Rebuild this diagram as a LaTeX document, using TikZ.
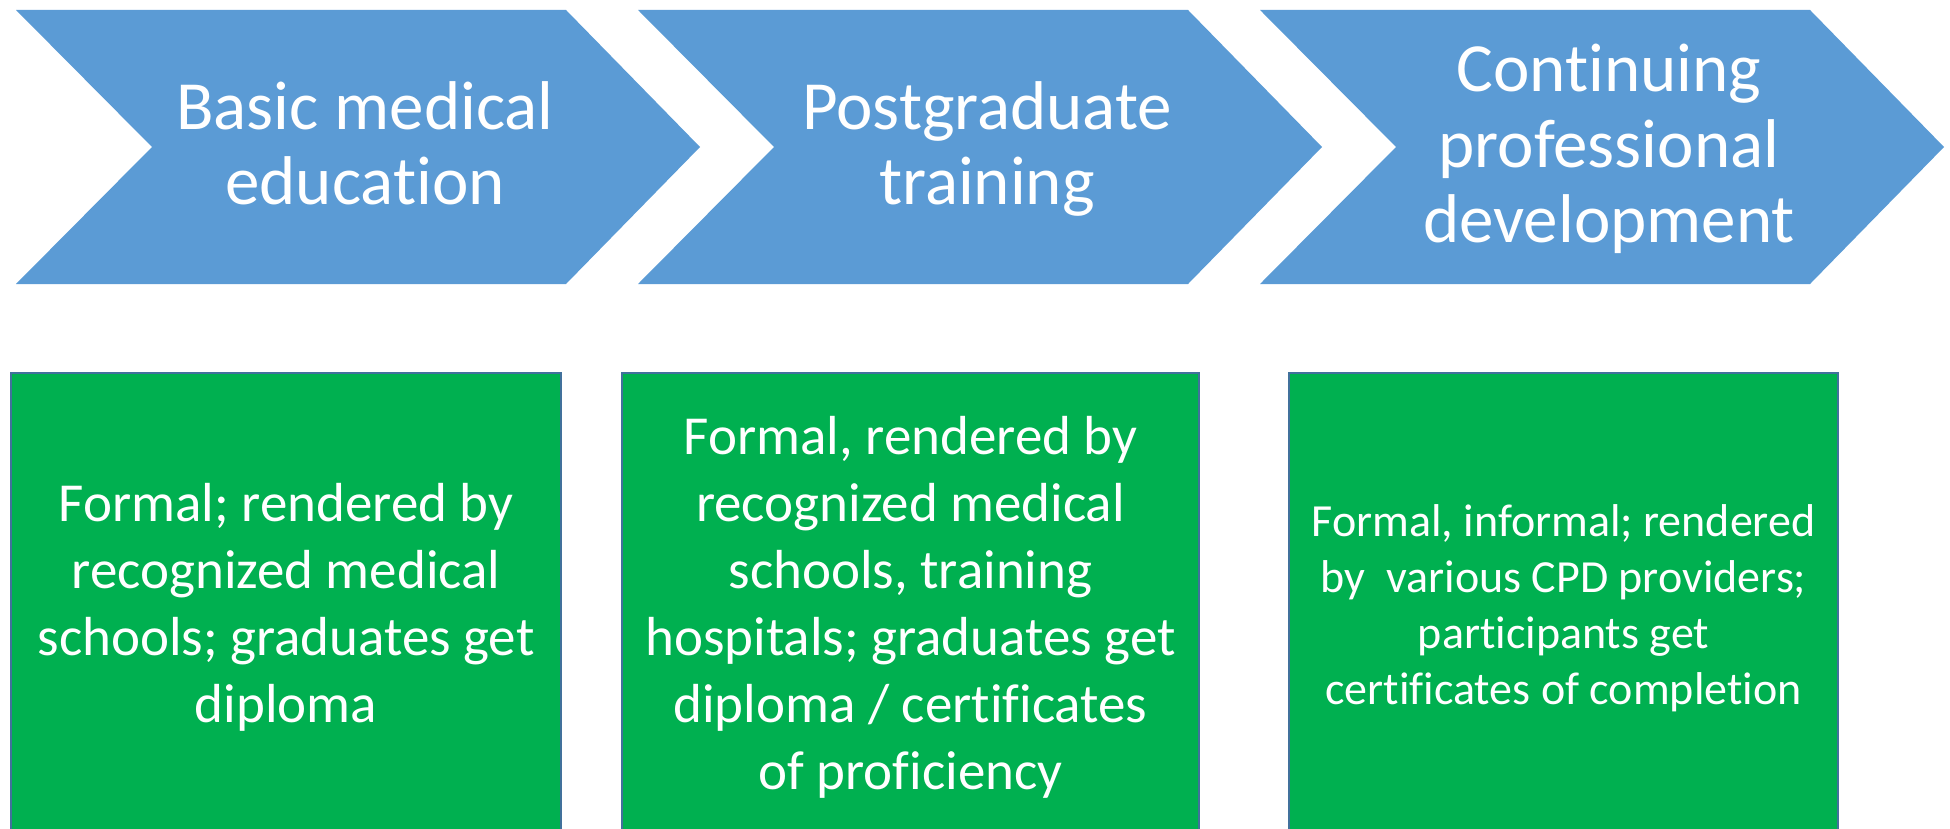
\documentclass[tikz,border=0pt]{standalone}
\usepackage{fontspec}
\setmainfont{Carlito}[Ligatures=NoCommon]
\usetikzlibrary{positioning}
\definecolor{stageblue}{HTML}{5B9BD5}
\definecolor{infogreen}{HTML}{00B050}
\definecolor{infoedge}{HTML}{41719C}

\begin{document}
\begin{tikzpicture}[
  x=1pt, y=-1pt,
  stagetext/.style={text=white, align=center, inner sep=0pt,
    font=\fontsize{69}{75}\selectfont},
  infobox/.style={draw=infoedge, line width=1.5pt, fill=infogreen,
    text=white, align=center, inner sep=0pt, minimum height=472pt,
    font=\fontsize{55}{67}\selectfont},
]

% frame of the picture (boxes run off the bottom edge)
\clip (0,0) rectangle (1950,829);

% ═══════════════════════════════════════════
% STAGE CHEVRONS
% ═══════════════════════════════════════════
\foreach \i in {0,1,2} {
  \fill[stageblue] ({16+622*\i},10) -- ({566+622*\i},10)
    -- ({700+622*\i},147) -- ({566+622*\i},284)
    -- ({16+622*\i},284) -- ({152+622*\i},147) -- cycle;
}

% Stage labels
\node[stagetext] (basic) at (365,152) {\strut Basic medical\\education\strut};
\node[stagetext] (postgrad) at (987,152) {\strut Postgraduate\\training\strut};
\node[stagetext] (cpd) at (1609,152) {\strut Continuing\\professional\\development\strut};

% ═══════════════════════════════════════════
% DESCRIPTION BOXES
% ═══════════════════════════════════════════
\node[infobox, minimum width=550pt] (basicinfo) at (286,609) {
  \strut Formal; rendered by\\
  recognized medical\\
  schools; graduates get\\
  diploma\strut
};

\node[infobox, minimum width=577pt] (postgradinfo) at (910.5,609) {
  \strut Formal, rendered by\\
  recognized medical\\
  schools, training\\
  hospitals; graduates get\\
  diploma / certificates\\
  of proficiency\strut
};

\node[infobox, minimum width=549pt, font=\fontsize{46}{56}\selectfont]
  (cpdinfo) at (1563.5,609) {
  \strut Formal, informal; rendered\\
  by\ \ various CPD providers;\\
  participants get\\
  certificates of completion\strut
};

\end{tikzpicture}
\end{document}
